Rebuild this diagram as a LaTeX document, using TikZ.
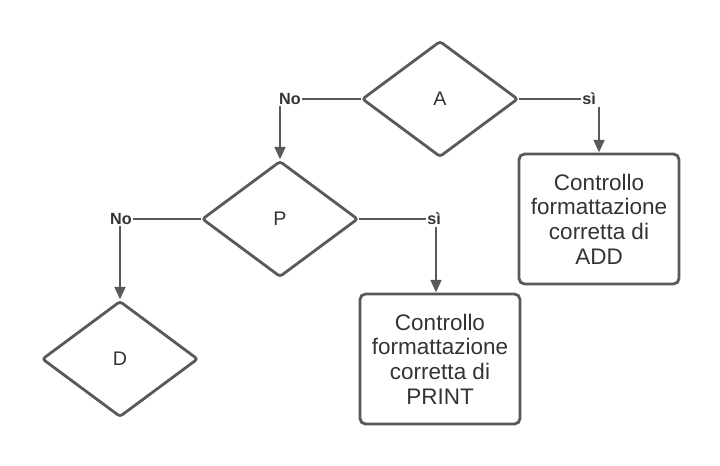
\documentclass[tikz,border=0pt]{standalone}
\usepackage{fontspec}
\setmainfont{Liberation Sans}
\usetikzlibrary{arrows.meta, positioning, shapes.geometric}
\definecolor{linegray}{HTML}{595959}
\definecolor{textgray}{HTML}{333333}
\begin{document}
\begin{tikzpicture}[
        x=0.025cm, y=-0.025cm,
        decision/.style={diamond, draw=linegray, line width=2pt, rounded corners=2pt,
                        minimum width=3.9cm, minimum height=2.9cm, inner sep=0pt,
                        text=textgray, font=\fontsize{14}{16}\selectfont},
        process/.style={rectangle, draw=linegray, line width=2pt, rounded corners=4pt,
                        minimum width=4.0cm, minimum height=3.25cm, align=center,
                        text=textgray, font=\fontsize{16}{17.6}\selectfont},
        answer/.style={inner sep=1pt, text=textgray, font=\bfseries\fontsize{11.5}{13}\selectfont},
        line/.style={draw=linegray, line width=2pt},
        arrow/.style={line, -{Triangle[length=9pt, width=7.5pt]}}
    ]
        \useasboundingbox (0,0) rectangle (720,465);

        \node[decision] (A) at (440,99) {A};
        \node[decision] (P) at (280,219) {P};
        \node[decision] (D) at (120,359) {D};

        \node[process] (checkadd) at (599,219) {Controllo\\formattazione\\corretta di\\ADD};
        \node[process] (checkprint) at (440,359) {Controllo\\formattazione\\corretta di\\PRINT};

        \node[answer] (noA) at (290,99) {No};
        \node[answer] (siA) at (589,99) {sì};
        \node[answer] (noP) at (121,219) {No};
        \node[answer] (siP) at (434,219) {sì};

        \draw[line] (A.west) -- (noA.east);
        \draw[arrow] (P.north |- noA.south) -- (P.north);
        \draw[line] (A.east) -- (siA.west);
        \draw[arrow] (checkadd.north |- siA.south) -- (checkadd.north);

        \draw[line] (P.west) -- (noP.east);
        \draw[arrow] (D.north |- noP.south) -- (D.north);
        \draw[line] (P.east) -- (siP.west);
        \draw[arrow] ([xshift=-0.1cm]checkprint.north |- siP.south) -- ([xshift=-0.1cm]checkprint.north);
    \end{tikzpicture}
\end{document}
